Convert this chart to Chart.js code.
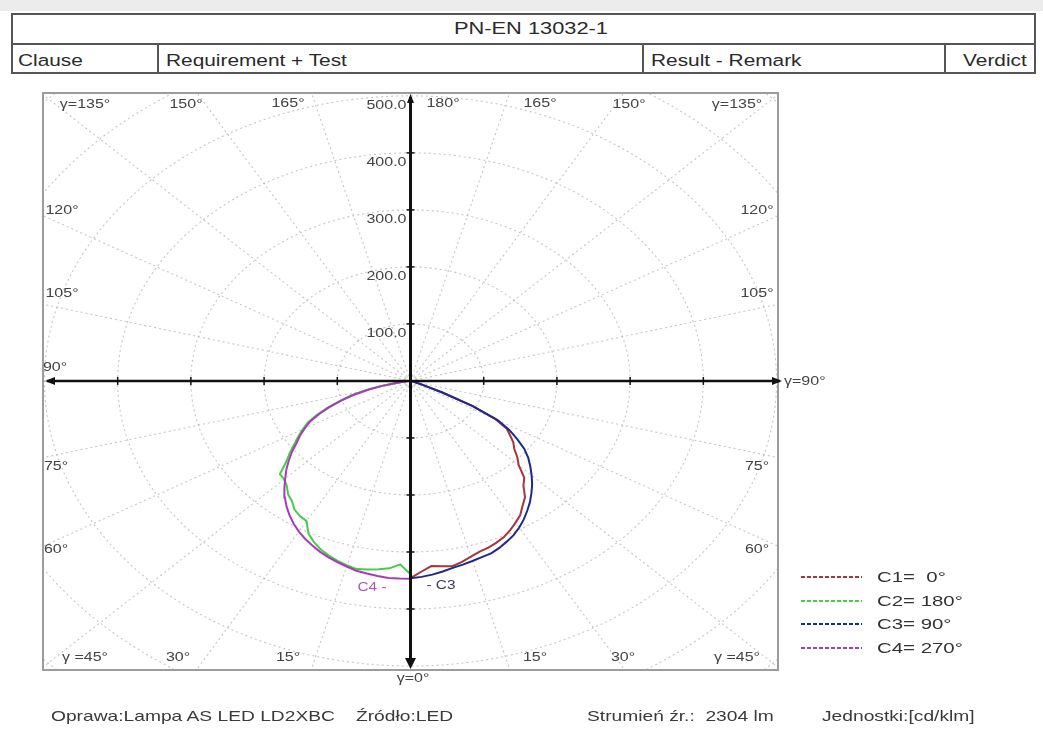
<!DOCTYPE html>
<html>
<head>
<meta charset="utf-8">
<title>Polar diagram C-planes</title>
<script src="https://cdn.jsdelivr.net/npm/chart.js@4.4.1/dist/chart.umd.min.js"></script>
<style>
  html, body { margin: 0; padding: 0; background: #fff; }
  body { width: 1043px; height: 744px; position: relative; overflow: hidden;
         font-family: 'Liberation Sans', Arial, sans-serif; color: #333; }
  .band { position: absolute; left: 0; top: 0; width: 1043px; height: 11px; background: #ececec; }
  .box { position: absolute; left: 11px; top: 13px; width: 1025px; height: 61px;
         border: 2px solid #555; box-sizing: border-box; }
  .hl { position: absolute; left: 11px; top: 43px; width: 1025px; height: 2px; background: #555; }
  .vl { position: absolute; top: 44px; width: 2px; height: 29px; background: #555; }
  .t { position: absolute; white-space: pre; line-height: 1; }
  .sx { display: inline-block; transform: scaleX(1.28); transform-origin: left center; }
  .hdr { font-size: 16.3px; color: #2a2a2a; }
  .foot { font-size: 15px; color: #3a3a3a; }
  #chart { position: absolute; left: 0; top: 0; }
  .leg { position: absolute; left: 801px; height: 16px; }
  .leg i { position: absolute; left: 0; top: 7px; width: 61px; height: 2px; }
  .leg span { position: absolute; left: 76px; top: 0; font-size: 15px; white-space: pre;
              line-height: 16px; color: #333; display: inline-block;
              transform: scaleX(1.36); transform-origin: left center; }
</style>
</head>
<body>
<div class="band"></div>
<div class="box"></div>
<div class="hl"></div>
<div class="vl" style="left:157px"></div>
<div class="vl" style="left:642px"></div>
<div class="vl" style="left:944px"></div>
<div class="t hdr" style="left:531px; top:21px; font-size:16.8px; transform:translateX(-50%) scaleX(1.3)">PN-EN 13032-1</div>
<div class="t hdr" style="left:18px; top:52px"><span class="sx">Clause</span></div>
<div class="t hdr" style="left:166px; top:52px"><span class="sx">Requirement + Test</span></div>
<div class="t hdr" style="left:651px; top:52px"><span class="sx">Result - Remark</span></div>
<div class="t hdr" style="right:16px; top:52px"><span class="sx" style="transform-origin:right center">Verdict</span></div>

<canvas id="chart" width="1043" height="744"></canvas>

<div id="legend"></div>

<div class="t foot" style="left:51px; top:708px"><span class="sx">Oprawa:Lampa AS LED LD2XBC</span></div>
<div class="t foot" style="left:356px; top:708px"><span class="sx">Źródło:LED</span></div>
<div class="t foot" style="left:587px; top:708px"><span class="sx">Strumień źr.:  2304 lm</span></div>
<div class="t foot" style="left:822px; top:708px"><span class="sx">Jednostki:[cd/klm]</span></div>

<script>
// gamma angles (deg from nadir) and intensities in cd/klm
const gammaDeg = [0, 2.5, 5, 7.5, 10, 12.5, 15, 17.5, 20, 22.5, 25, 27.5, 30, 32.5, 35, 37.5,
  40, 42.5, 45, 47.5, 50, 52.5, 55, 57.5, 60, 62.5, 65, 67.5, 70, 72.5, 75, 77.5, 80, 82.5, 85, 87.5, 90];

const c1Values = [346, 335, 326, 328, 330, 325, 319, 314, 311, 307, 302, 295, 287, 279, 267, 257,
  240, 230, 209, 198, 185, 177, 166, 156, 134, 95, 47, 18, 8, 4, 2, 1, 0, 0, 0, 0, 0];
const c2Values = [339, 322, 330, 333, 336, 338, 335, 331, 326, 320, 312, 302, 284, 281, 276, 266,
  260, 250, 244, 242, 222, 208, 194, 182, 170, 158, 141, 123, 103, 85, 63, 42, 20, 9, 3, 1, 0];
const c3Values = [346, 344, 341, 337, 333, 330, 327, 324, 322, 317, 311, 305, 297, 288, 278, 268,
  257, 246, 234, 222, 210, 196, 178, 160, 138, 96, 48, 18, 8, 4, 2, 1, 0, 0, 0, 0, 0];
const c4Values = [347, 347, 347, 345, 343, 341, 337, 333, 329, 324, 318, 312, 305, 297, 288, 278,
  267, 255, 242, 230, 217, 204, 190, 179, 167, 155, 138, 120, 100, 82, 60, 40, 18, 8, 3, 1, 0];

const seriesNames = ['C1=  0°', 'C2= 180°', 'C3= 90°', 'C4= 270°'];
const seriesColors = ['#a8343c', '#46cc46', '#1c2a8a', '#a83cb8'];

const radialTicks = [100, 200, 300, 400];
const radialLabels = ['100.0', '200.0', '300.0', '400.0', '500.0'];
const gridRadii = [100, 200, 300, 400, 500, 600, 700];

function planePoints(values, side) {
  return values.map((v, i) => {
    const t = gammaDeg[i] * Math.PI / 180;
    return { x: side * v * Math.sin(t), y: -v * Math.cos(t) };
  });
}

function stretchedText(ctx, str, px, py, align) {
  ctx.save();
  ctx.translate(px, py);
  ctx.scale(1.28, 1);
  ctx.textAlign = align || 'center';
  ctx.fillText(str, 0, 0);
  ctx.restore();
}

function arrow(ctx, tipX, tipY, dx, dy, len, half) {
  // dx, dy = unit direction of the arrow
  ctx.beginPath();
  ctx.moveTo(tipX, tipY);
  ctx.lineTo(tipX - dx * len - dy * half, tipY - dy * len + dx * half);
  ctx.lineTo(tipX - dx * len + dy * half, tipY - dy * len - dx * half);
  ctx.closePath();
  ctx.fill();
}

const polarFrame = {
  id: 'polarFrame',
  beforeDatasetsDraw(chart) {
    const { ctx, chartArea: a, scales: { x, y } } = chart;
    const cx = x.getPixelForValue(0), cy = y.getPixelForValue(0);
    ctx.save();
    ctx.beginPath();
    ctx.rect(a.left, a.top, a.right - a.left, a.bottom - a.top);
    ctx.clip();
    ctx.strokeStyle = 'rgba(160,160,160,0.6)';
    ctx.lineWidth = 1.1;
    ctx.setLineDash([2, 3]);
    gridRadii.forEach(r => {
      const rx = x.getPixelForValue(r) - cx, ry = cy - y.getPixelForValue(r);
      ctx.beginPath();
      ctx.ellipse(cx, cy, rx, ry, 0, 0, Math.PI * 2);
      ctx.stroke();
    });
    for (let g = 0; g < 360; g += 15) {
      const t = g * Math.PI / 180;
      ctx.beginPath();
      ctx.moveTo(cx, cy);
      ctx.lineTo(x.getPixelForValue(900 * Math.sin(t)), y.getPixelForValue(-900 * Math.cos(t)));
      ctx.stroke();
    }
    ctx.restore();
  },
  afterDatasetsDraw(chart) {
    const { ctx, chartArea: a, scales: { x, y } } = chart;
    const cx = x.getPixelForValue(0), cy = y.getPixelForValue(0);
    ctx.save();

    // frame
    ctx.strokeStyle = '#9c9c9c';
    ctx.lineWidth = 2;
    ctx.strokeRect(a.left, a.top, a.right - a.left, a.bottom - a.top);

    // axes
    ctx.strokeStyle = '#111';
    ctx.fillStyle = '#111';
    ctx.lineWidth = 2.5;
    ctx.beginPath();
    ctx.moveTo(a.left + 4, cy);
    ctx.lineTo(a.right + 2, cy);
    ctx.stroke();
    arrow(ctx, a.left + 2, cy, -1, 0, 10, 4);
    arrow(ctx, a.right + 4, cy, 1, 0, 10, 4);
    ctx.lineWidth = 3;
    ctx.beginPath();
    ctx.moveTo(cx, a.top + 4);
    ctx.lineTo(cx, a.bottom - 4);
    ctx.stroke();
    arrow(ctx, cx, a.top + 1, 0, -1, 9, 3.5);
    arrow(ctx, cx, a.bottom - 1, 0, 1, 11, 5.5);

    // ticks
    ctx.lineWidth = 1.5;
    radialTicks.forEach(v => {
      [v, -v].forEach(s => {
        const px = x.getPixelForValue(s), py = y.getPixelForValue(s);
        ctx.beginPath(); ctx.moveTo(px, cy - 4); ctx.lineTo(px, cy + 4); ctx.stroke();
        ctx.beginPath(); ctx.moveTo(cx - 4, py); ctx.lineTo(cx + 4, py); ctx.stroke();
      });
    });

    // intensity labels along the upper axis
    ctx.fillStyle = '#444';
    ctx.font = '12.5px "Liberation Sans", Arial, sans-serif';
    ctx.textBaseline = 'middle';
    radialLabels.forEach((lab, i) => {
      const py = y.getPixelForValue((i + 1) * 100);
      stretchedText(ctx, lab, cx - 4, py + 10, 'right');
    });

    // gamma labels
    const labels = [
      ['γ=135°', 85, 105], ['150°', 186, 105], ['165°', 288, 104], ['180°', 443, 104],
      ['165°', 540, 104], ['150°', 629, 105], ['γ=135°', 737, 105],
      ['120°', 62, 211], ['105°', 62, 294], ['90°', 55, 368], ['75°', 56, 467], ['60°', 56, 550],
      ['120°', 757, 211], ['105°', 757, 294], ['75°', 757, 467], ['60°', 757, 550],
      ['γ =45°', 85, 658], ['30°', 178, 658], ['15°', 288, 658],
      ['15°', 535, 658], ['30°', 623, 658], ['γ =45°', 737, 658],
      ['γ=0°', 413, 679]
    ];
    labels.forEach(([t, px, py]) => stretchedText(ctx, t, px, py, 'center'));
    stretchedText(ctx, 'γ=90°', a.right + 6, cy + 1, 'left');

    ctx.font = '12px "Liberation Sans", Arial, sans-serif';
    ctx.fillStyle = '#b050c0';
    stretchedText(ctx, 'C4 -', 372, 588, 'center');
    ctx.fillStyle = '#3a3a5a';
    stretchedText(ctx, '- C3', 441, 586, 'center');
    ctx.restore();
  }
};

const planeData = [
  planePoints(c1Values, 1),
  planePoints(c2Values, -1),
  planePoints(c3Values, 1),
  planePoints(c4Values, -1)
];
const drawOrder = [1, 1, 0, 0];

new Chart(document.getElementById('chart').getContext('2d'), {
  type: 'scatter',
  data: {
    datasets: planeData.map((pts, i) => ({
      label: seriesNames[i],
      data: pts,
      showLine: true,
      borderColor: seriesColors[i],
      backgroundColor: seriesColors[i],
      borderWidth: 2,
      pointRadius: 0,
      tension: 0,
      order: drawOrder[i]
    }))
  },
  options: {
    responsive: false,
    animation: false,
    layout: { padding: { left: 43, top: 93, right: 265, bottom: 74 } },
    scales: {
      x: { type: 'linear', min: -502, max: 502, display: false },
      y: { type: 'linear', min: -507, max: 505, display: false }
    },
    plugins: { legend: { display: false }, tooltip: { enabled: false } }
  },
  plugins: [polarFrame]
});

// legend at the right of the frame
const legend = document.getElementById('legend');
const legendTop = [569, 593, 616, 640];
seriesNames.forEach((name, i) => {
  const row = document.createElement('div');
  row.className = 'leg';
  row.style.top = legendTop[i] + 'px';
  const line = document.createElement('i');
  line.style.background = `repeating-linear-gradient(90deg, ${seriesColors[i]} 0 4px, transparent 4px 6px)`;
  const label = document.createElement('span');
  label.textContent = name;
  row.appendChild(line);
  row.appendChild(label);
  legend.appendChild(row);
});
</script>
</body>
</html>
